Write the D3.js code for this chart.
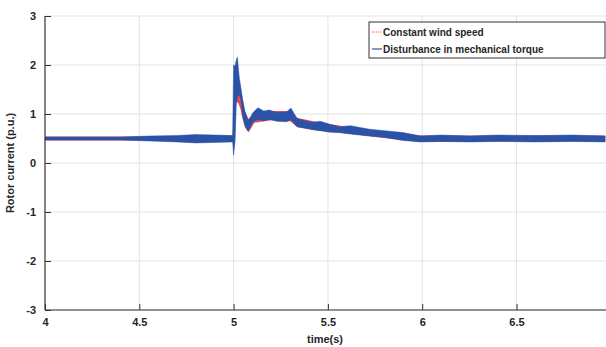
<!doctype html>
<html>
<head>
<meta charset="utf-8">
<script src="https://d3js.org/d3.v7.min.js"></script>
<style>
  body { margin:0; background:#fff; }
  text { font-family: "Liberation Sans", Arial, sans-serif; font-weight: bold; fill:#262626; }
</style>
</head>
<body>
<svg id="chart" width="606" height="347"></svg>
<script>
// envelope of the noisy traces: time, lower, upper
const blueT  = [4.00, 4.40, 4.55, 4.70, 4.80, 4.90, 4.995, 5.000, 5.008, 5.014, 5.020, 5.030, 5.038, 5.048, 5.060, 5.076, 5.090, 5.103, 5.129, 5.16, 5.19, 5.23, 5.28, 5.304, 5.336, 5.38, 5.42, 5.46, 5.51, 5.56, 5.62, 5.72, 5.80, 5.90, 5.99, 6.10, 6.25, 6.40, 6.60, 6.80, 6.97];
const blueLo = [0.47, 0.47, 0.45, 0.43, 0.41, 0.42, 0.43, 0.16, 0.45, 1.20, 1.35, 1.40, 1.30, 0.95, 0.76, 0.65, 0.74, 0.84, 0.89, 0.86, 0.89, 0.85, 0.84, 0.88, 0.74, 0.71, 0.68, 0.66, 0.63, 0.62, 0.59, 0.55, 0.52, 0.46, 0.43, 0.44, 0.43, 0.44, 0.43, 0.44, 0.43];
const blueHi = [0.53, 0.53, 0.55, 0.56, 0.58, 0.57, 0.56, 2.00, 1.98, 2.10, 2.16, 1.75, 1.55, 1.30, 1.06, 0.86, 0.94, 1.03, 1.13, 1.06, 1.08, 1.03, 1.04, 1.12, 0.91, 0.86, 0.83, 0.85, 0.79, 0.74, 0.76, 0.69, 0.66, 0.62, 0.55, 0.57, 0.55, 0.57, 0.56, 0.57, 0.55];

const redT   = [4.00, 4.50, 4.90, 4.995, 5.005, 5.015, 5.025, 5.035, 5.045, 5.060, 5.080, 5.110, 5.20, 5.30, 5.34, 5.45, 5.60, 5.80, 6.00, 6.50, 6.97];
const redLo  = [0.46, 0.46, 0.43, 0.44, 0.60, 1.25, 1.22, 1.12, 0.95, 0.73, 0.63, 0.82, 0.87, 0.85, 0.73, 0.66, 0.60, 0.51, 0.43, 0.44, 0.44];
const redHi  = [0.54, 0.54, 0.56, 0.56, 1.40, 1.68, 1.68, 1.50, 1.25, 1.05, 0.90, 1.02, 1.06, 1.06, 0.92, 0.83, 0.74, 0.64, 0.56, 0.56, 0.56];

const xTicks = [4, 4.5, 5, 5.5, 6, 6.5];
const yTicks = [-3, -2, -1, 0, 1, 2, 3];
const legendLabels = ["Constant wind speed", "Disturbance in mechanical torque"];

const svg = d3.select("#chart");
const m = {left:45, top:16, bottom:310};
const x = d3.scaleLinear().domain([4, 7]).range([m.left, m.left + 188.6*3]);
const y = d3.scaleLinear().domain([-3, 3]).range([m.bottom, m.top]);

// grid
svg.append("g").selectAll("line").data(yTicks).join("line")
  .attr("x1", m.left).attr("x2", 606).attr("y1", d => y(d)).attr("y2", d => y(d))
  .attr("stroke", "#e3e3e3");
svg.append("g").selectAll("line").data(xTicks.slice(1)).join("line")
  .attr("x1", d => x(d)).attr("x2", d => x(d)).attr("y1", m.top).attr("y2", m.bottom)
  .attr("stroke", "#e3e3e3");

svg.append("clipPath").attr("id", "clip").append("rect")
  .attr("x", m.left).attr("y", m.top).attr("width", 606 - m.left).attr("height", m.bottom - m.top);

const plot = svg.append("g").attr("clip-path", "url(#clip)");

const area = d3.area().x(d => x(d.t)).y0(d => y(d.lo)).y1(d => y(d.hi));
const redData  = redT.map((t, i) => ({t, lo: redLo[i], hi: redHi[i]}));
const blueData = blueT.map((t, i) => ({t, lo: blueLo[i], hi: blueHi[i]}));

plot.append("path").datum(redData).attr("d", area).attr("fill", "#f0464e");
plot.append("path").datum(blueData).attr("d", area).attr("fill", "#2a52a6")
  .attr("stroke", "#2a52a6").attr("stroke-width", 0.5);

// axes
const fmt = d => d < 0 ? "-" + Math.abs(d) : String(d);
const yAxis = d3.axisLeft(y).tickValues(yTicks).tickSize(-6).tickPadding(9).tickFormat(fmt);
const gy = svg.append("g").attr("transform", `translate(${m.left},0)`).call(yAxis);
const xAxis = d3.axisBottom(x).tickValues(xTicks).tickSize(-6).tickPadding(8).tickFormat(fmt);
const gx = svg.append("g").attr("transform", `translate(0,${m.bottom})`).call(xAxis);
[gy, gx].forEach(g => {
  g.select(".domain").attr("stroke", "#333").attr("stroke-width", 1.2);
  g.selectAll(".tick line").attr("stroke", "#333");
  g.selectAll("text").attr("font-size", 11).attr("font-family", null).style("fill", "#262626");
});
gx.select(".domain").attr("d", `M${m.left},0H606`);
gy.select(".domain").attr("d", `M0,${m.top}V${m.bottom}`);

svg.append("text").attr("x", 325).attr("y", 343).attr("text-anchor", "middle")
  .attr("font-size", 11).text("time(s)");
svg.append("text").attr("transform", `translate(14,163) rotate(-90)`).attr("text-anchor", "middle")
  .attr("font-size", 11).text("Rotor current (p.u.)");

// legend
const lg = svg.append("g").attr("transform", "translate(369,22)");
lg.append("rect").attr("width", 236).attr("height", 36).attr("fill", "#fff").attr("stroke", "#333");
lg.append("line").attr("x1", 3).attr("x2", 13).attr("y1", 10).attr("y2", 10)
  .attr("stroke", "#f0464e").attr("stroke-dasharray", "1,1");
lg.append("line").attr("x1", 3).attr("x2", 13).attr("y1", 27).attr("y2", 27)
  .attr("stroke", "#2a52a6").attr("stroke-width", 1.2);
lg.selectAll("text.lab").data(legendLabels).join("text").attr("class", "lab")
  .attr("x", 14).attr("y", (d, i) => 10 + i*17 + 3.5).attr("font-size", 10).text(d => d);
</script>
</body>
</html>
